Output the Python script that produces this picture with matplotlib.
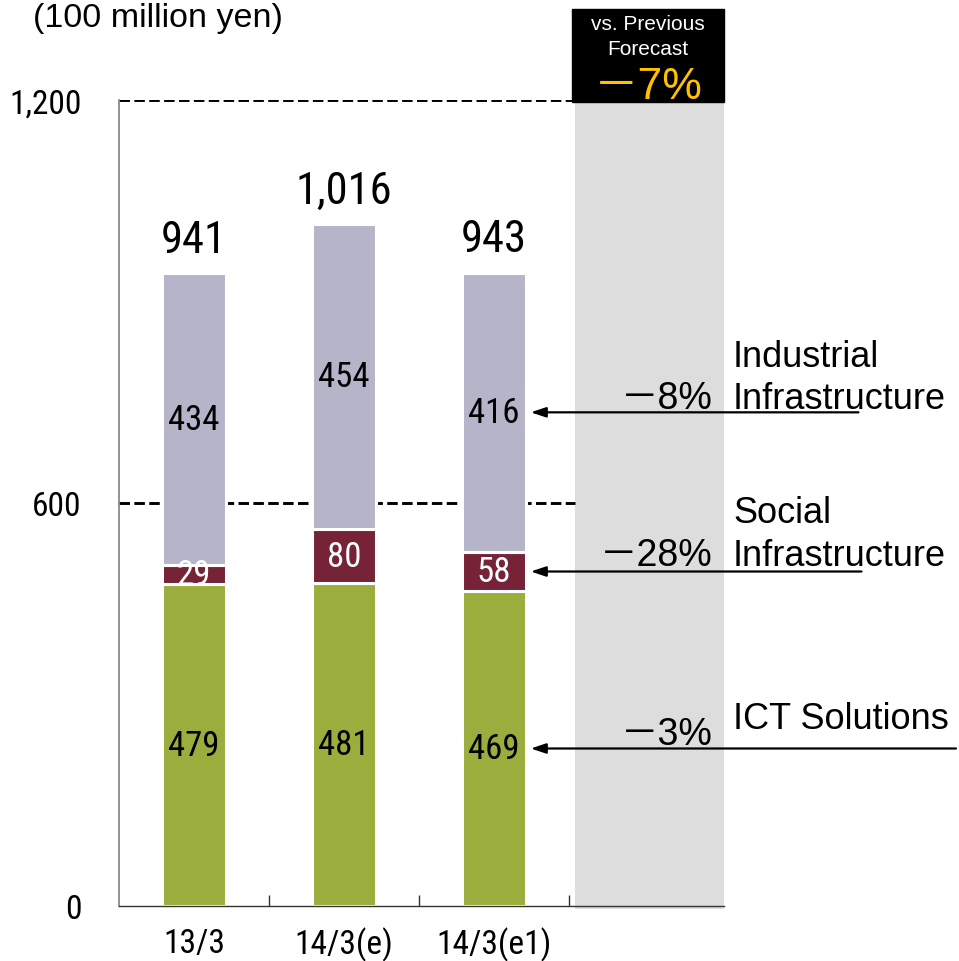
import numpy as np
import matplotlib
matplotlib.use("Agg")
from matplotlib import pyplot as plt
from matplotlib import font_manager

# Sales by segment (100 million yen)
periods = ["13/3", "14/3(e)", "14/3(e1)"]
ict_solutions = [479, 481, 469]
social_infra = [29, 80, 58]
industrial_infra = [434, 454, 416]
totals = ["941", "1,016", "943"]
segment_names = ["ICT Solutions", "Social\nInfrastructure", "Industrial\nInfrastructure"]
vs_forecast = ["\uff0d3%", "\uff0d28%", "\uff0d8%"]
total_vs_forecast = "\uff0d7%"

GREEN = "#9bad3c"
WINE = "#762237"
LILAC = "#b6b4c9"
PANEL = "#dddddd"
GOLD = "#ffc000"

# narrow face for the figures, plain sans for the words
installed = {f.name for f in font_manager.fontManager.ttflist}
narrow = "Liberation Sans"
for cand in ["Roboto Condensed", "Liberation Sans Narrow", "Arial Narrow", "PT Sans Narrow", "Archivo Narrow"]:
    if cand in installed:
        narrow = cand
        break
SANS = ["Liberation Sans", "Noto Sans CJK JP", "DejaVu Sans"]

fig = plt.figure(figsize=(9.59, 9.62), dpi=100)
W, H = 959, 962
left, right, bottom, top = 119, 724, 907, 101
ax = fig.add_axes([left / W, 1 - bottom / H, (right - left) / W, (bottom - top) / H])

x = np.arange(len(periods))
width = 0.43
ymax = 1200
xmax = -0.5 + (right - left) / 150
ax.set_xlim(-0.5, xmax)
ax.set_ylim(0, ymax)
px = ymax / (bottom - top)  # data units per pixel

# grey column for the forecast comparison
panel_x0 = 2.54
ax.axvspan(panel_x0, xmax, ymin=-0.004, ymax=1, color=PANEL, zorder=0, lw=0, clip_on=False)
box_top = ymax + (top - 10) * px
ax.add_patch(plt.Rectangle((2.52, ymax - 3), xmax - 2.52, box_top - ymax + 3,
                           color="black", zorder=3, clip_on=False))
box_cx = (2.52 + xmax) / 2
ax.text(box_cx, (bottom - 25) * px, "vs. Previous", ha="center", va="center", color="white",
        fontsize=15, family=SANS, zorder=4, clip_on=False)
ax.text(box_cx, (bottom - 50) * px, "Forecast", ha="center", va="center", color="white",
        fontsize=15, family=SANS, zorder=4, clip_on=False)
ax.text(box_cx, (bottom - 88) * px, total_vs_forecast, ha="center", va="center", color=GOLD,
        fontsize=32, family=SANS, zorder=4, clip_on=False)

# dashed reference lines
for yv in (600, 1200):
    ax.hlines(yv, -0.5, panel_x0, colors="black", lw=2.1, linestyles=(0, (3.6, 1.5)), zorder=1)

# stacked bars
ict = np.array(ict_solutions)
soc = np.array(social_infra)
ind = np.array(industrial_infra)
ax.bar(x, ict, width, color=GREEN, edgecolor="white", lw=2.2, zorder=2)
ax.bar(x, soc, width, bottom=ict, color=WINE, edgecolor="white", lw=2.2, zorder=2)
ax.bar(x, ind, width, bottom=ict + soc, color=LILAC, edgecolor="white", lw=2.2, zorder=2)

for i in x:
    ax.text(i, ict[i] / 2, str(ict[i]), ha="center", va="center", fontsize=25,
            family=narrow, zorder=3)
    ax.text(i, ict[i] + soc[i] / 2, str(soc[i]), ha="center", va="center", fontsize=25,
            family=narrow, color="white", zorder=3)
    ax.text(i, ict[i] + soc[i] + ind[i] / 2, str(ind[i]), ha="center", va="center",
            fontsize=25, family=narrow, zorder=3)
    ax.annotate(totals[i], (i, ict[i] + soc[i] + ind[i]), xytext=(0, 9),
                textcoords="offset points", ha="center", va="bottom", fontsize=32,
                family=narrow)

# arrows from the segment labels to the latest bar
last = len(periods) - 1
centers = [ict[last] / 2, ict[last] + soc[last] / 2, ict[last] + soc[last] + ind[last] / 2]
tails = [5.08, 4.45, 4.43]
name_lift = [15, 5, 3]
pct_lift = [3, 5, 3]
label_x = 2.5 + (733 - 569) / 150
pct_x = 2.5 + (713 - 569) / 150
for name, pct, yc, tail, nl, pl in zip(segment_names, vs_forecast, centers, tails,
                                       name_lift, pct_lift):
    ax.annotate("", xy=(last + width / 2 + 0.03, yc), xytext=(tail, yc),
                arrowprops=dict(arrowstyle="-|>,head_length=0.9,head_width=0.3",
                                color="black", lw=1.6, shrinkA=0, shrinkB=0),
                annotation_clip=False, zorder=5)
    ax.annotate(name, (label_x, yc), xytext=(0, nl), textcoords="offset points",
                ha="left", va="baseline", fontsize=26, family=SANS, linespacing=1.28,
                annotation_clip=False)
    ax.annotate(pct, (pct_x, yc), xytext=(0, pl), textcoords="offset points",
                ha="right", va="baseline", fontsize=27, family=SANS,
                annotation_clip=False)

# axes styling
for side in ("top", "right"):
    ax.spines[side].set_visible(False)
ax.spines["left"].set_color("#808080")
ax.spines["left"].set_linewidth(1.2)
ax.spines["bottom"].set_linewidth(1.0)
ax.spines["bottom"].set_color("#333333")

ax.set_yticks([0, 600, 1200])
ax.set_yticklabels(["0", "600", "1,200"], family=narrow, fontsize=24)
ax.tick_params(axis="y", length=0, pad=27)

ax.set_xticks(x)
ax.set_xticklabels(periods, family=narrow, fontsize=24)
ax.tick_params(axis="x", which="major", length=0, pad=15)
ax.set_xticks([0.5, 1.5, 2.5], minor=True)
ax.tick_params(axis="x", which="minor", direction="in", length=8, width=1, color="#333333")

fig.text(33 / W, 1 - 18 / H, "(100 million yen)", ha="left", va="center",
         fontsize=24.5, family=SANS)

fig.savefig("out.png", dpi=100)
